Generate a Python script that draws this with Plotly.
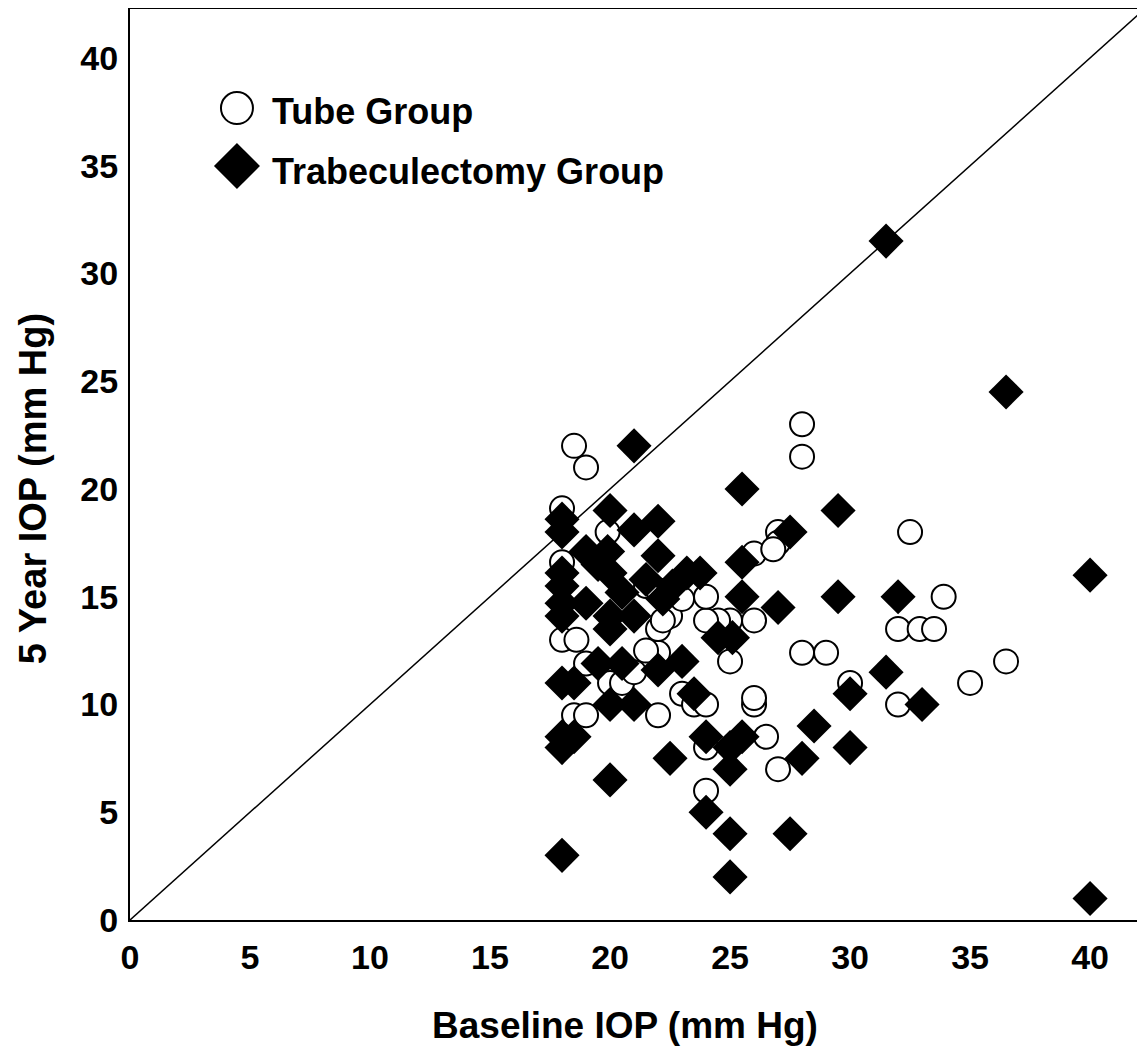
import plotly.graph_objects as go

# Tube group (open circles): baseline IOP, 5-year IOP
tube_baseline = [18.5, 19, 28, 28, 18, 18, 19.9, 27, 27, 26, 32.5, 33.9, 36.5, 35,
                 32, 32.9, 33.5, 32, 30, 28, 29, 26, 25, 24.5, 24, 24, 25, 26, 26.5,
                 27, 24, 24, 23, 23.5, 24, 22, 18.5, 19, 20, 20.5, 21, 18, 18.6,
                 21.5, 22, 22, 22.5, 23, 22.2, 26.8, 21.5, 19, 22, 26]
tube_5yr = [22, 21, 23, 21.5, 19.1, 16.6, 18, 18, 17.5, 17, 18, 15, 12, 11,
            13.5, 13.5, 13.5, 10, 11, 12.4, 12.4, 13.9, 13.9, 13.9, 13.9, 15, 12, 10, 8.5,
            7, 6, 8, 10.5, 10, 10, 9.5, 9.5, 9.5, 11, 11, 11.5, 13, 13,
            15.5, 12.4, 13.5, 14.1, 14.9, 13.9, 17.2, 12.5, 11.9, 15.3, 10.3]

# Trabeculectomy group (filled diamonds)
trab_baseline = [31.5, 36.5, 21, 25.5, 40, 29.5, 27.5, 29.5, 32, 27, 25.5, 25.5, 31.5,
                 33, 30, 28.5, 30, 28, 27.5, 40, 18, 25, 25, 24, 20, 22.5, 25, 24,
                 25.5, 25, 18, 18, 18.5, 23.5, 18, 18.5, 20, 21, 19.5, 20.5, 22, 23,
                 24.5, 25.1, 18, 18, 20, 22, 21, 22, 19, 19.9, 18, 18, 20, 23.2,
                 23.75, 22.6, 22.2, 18, 18, 19, 20, 20, 21, 19.5, 21.5, 20.5]
trab_5yr = [31.5, 24.5, 22, 20, 16, 19, 18, 15, 15, 14.5, 16.6, 15, 11.5,
            10, 10.5, 9, 8, 7.5, 4, 1, 3, 2, 4, 5, 6.5, 7.5, 7, 8.5,
            8.5, 8, 8.5, 8, 8.5, 10.5, 11, 11, 10, 10, 11.9, 11.9, 11.6, 12,
            13.1, 13.1, 18.6, 18, 19, 18.5, 18.1, 16.9, 17.1, 17.1, 16.1, 15.5, 16.1, 16.1,
            16.1, 15.5, 14.9, 14.1, 14.7, 14.7, 14.1, 13.5, 14.1, 16.5, 15.8, 15.2]

series_names = ["Tube Group", "Trabeculectomy Group"]
x_ticks = [0, 5, 10, 15, 20, 25, 30, 35, 40]
y_ticks = [0, 5, 10, 15, 20, 25, 30, 35, 40]
x_title = "Baseline IOP (mm Hg)"
y_title = "5 Year IOP (mm Hg)"
x_max = 42.08
y_max = 42.27

FONT = "Liberation Sans"

fig = go.Figure()
fig.add_trace(go.Scatter(
    x=tube_baseline, y=tube_5yr, mode="markers", name=series_names[0],
    marker=dict(symbol="circle", size=24, color="white",
                line=dict(color="black", width=2)),
))
fig.add_trace(go.Scatter(
    x=trab_baseline, y=trab_5yr, mode="markers", name=series_names[1],
    marker=dict(symbol="diamond", size=27, color="black",
                line=dict(color="black", width=0)),
))

# identity line
fig.add_shape(type="line", xref="x", yref="y", x0=0, y0=0, x1=x_max, y1=x_max,
              line=dict(color="black", width=1.5), layer="below")

# legend (large keys drawn as shapes, as in the original)
key_x = 0.1059
fig.add_shape(type="circle", xref="paper", yref="paper",
              xsizemode="pixel", ysizemode="pixel",
              xanchor=key_x, yanchor=0.8913,
              x0=-16, x1=16, y0=-16, y1=16,
              line=dict(color="black", width=2), fillcolor="white")
fig.add_shape(type="path", xref="paper", yref="paper",
              xsizemode="pixel", ysizemode="pixel",
              xanchor=key_x, yanchor=0.8277,
              path="M -23 0 L 0 23 L 23 0 L 0 -23 Z",
              line=dict(color="black", width=0), fillcolor="black")
for name, yy in zip(series_names, [0.887, 0.8215]):
    fig.add_annotation(text=name, xref="paper", yref="paper", x=0.1386, y=yy,
                       xanchor="left", yanchor="middle", showarrow=False,
                       font=dict(family=FONT, size=36, color="black", weight="bold"))

# axis titles
fig.add_annotation(text=y_title, xref="paper", yref="paper", x=-0.096, y=0.473,
                   xanchor="center", yanchor="middle", showarrow=False, textangle=-90,
                   font=dict(family=FONT, size=38, color="black", weight="bold"))
fig.add_annotation(text=x_title, xref="paper", yref="paper", x=0.49, y=-0.1153,
                   xanchor="center", yanchor="middle", showarrow=False,
                   font=dict(family=FONT, size=37, color="black", weight="bold"))

fig.update_layout(
    width=1137, height=1041,
    margin=dict(l=122, r=5, t=1, b=129),
    paper_bgcolor="white", plot_bgcolor="white",
    font=dict(family=FONT, color="black"),
    showlegend=False,
    xaxis=dict(range=[0, x_max], tickmode="array", tickvals=x_ticks,
               showgrid=False, zeroline=False, showline=True, linecolor="black",
               linewidth=2, mirror=True, ticks="", automargin=False,
               ticklabelstandoff=6,
               tickfont=dict(family=FONT, size=34, color="black", weight="bold")),
    yaxis=dict(range=[0, y_max], tickmode="array", tickvals=y_ticks,
               showgrid=False, zeroline=False, showline=True, linecolor="black",
               linewidth=2, mirror=True, ticks="", automargin=False,
               ticklabelstandoff=3,
               tickfont=dict(family=FONT, size=34, color="black", weight="bold")),
)

fig.write_html("out.html")
